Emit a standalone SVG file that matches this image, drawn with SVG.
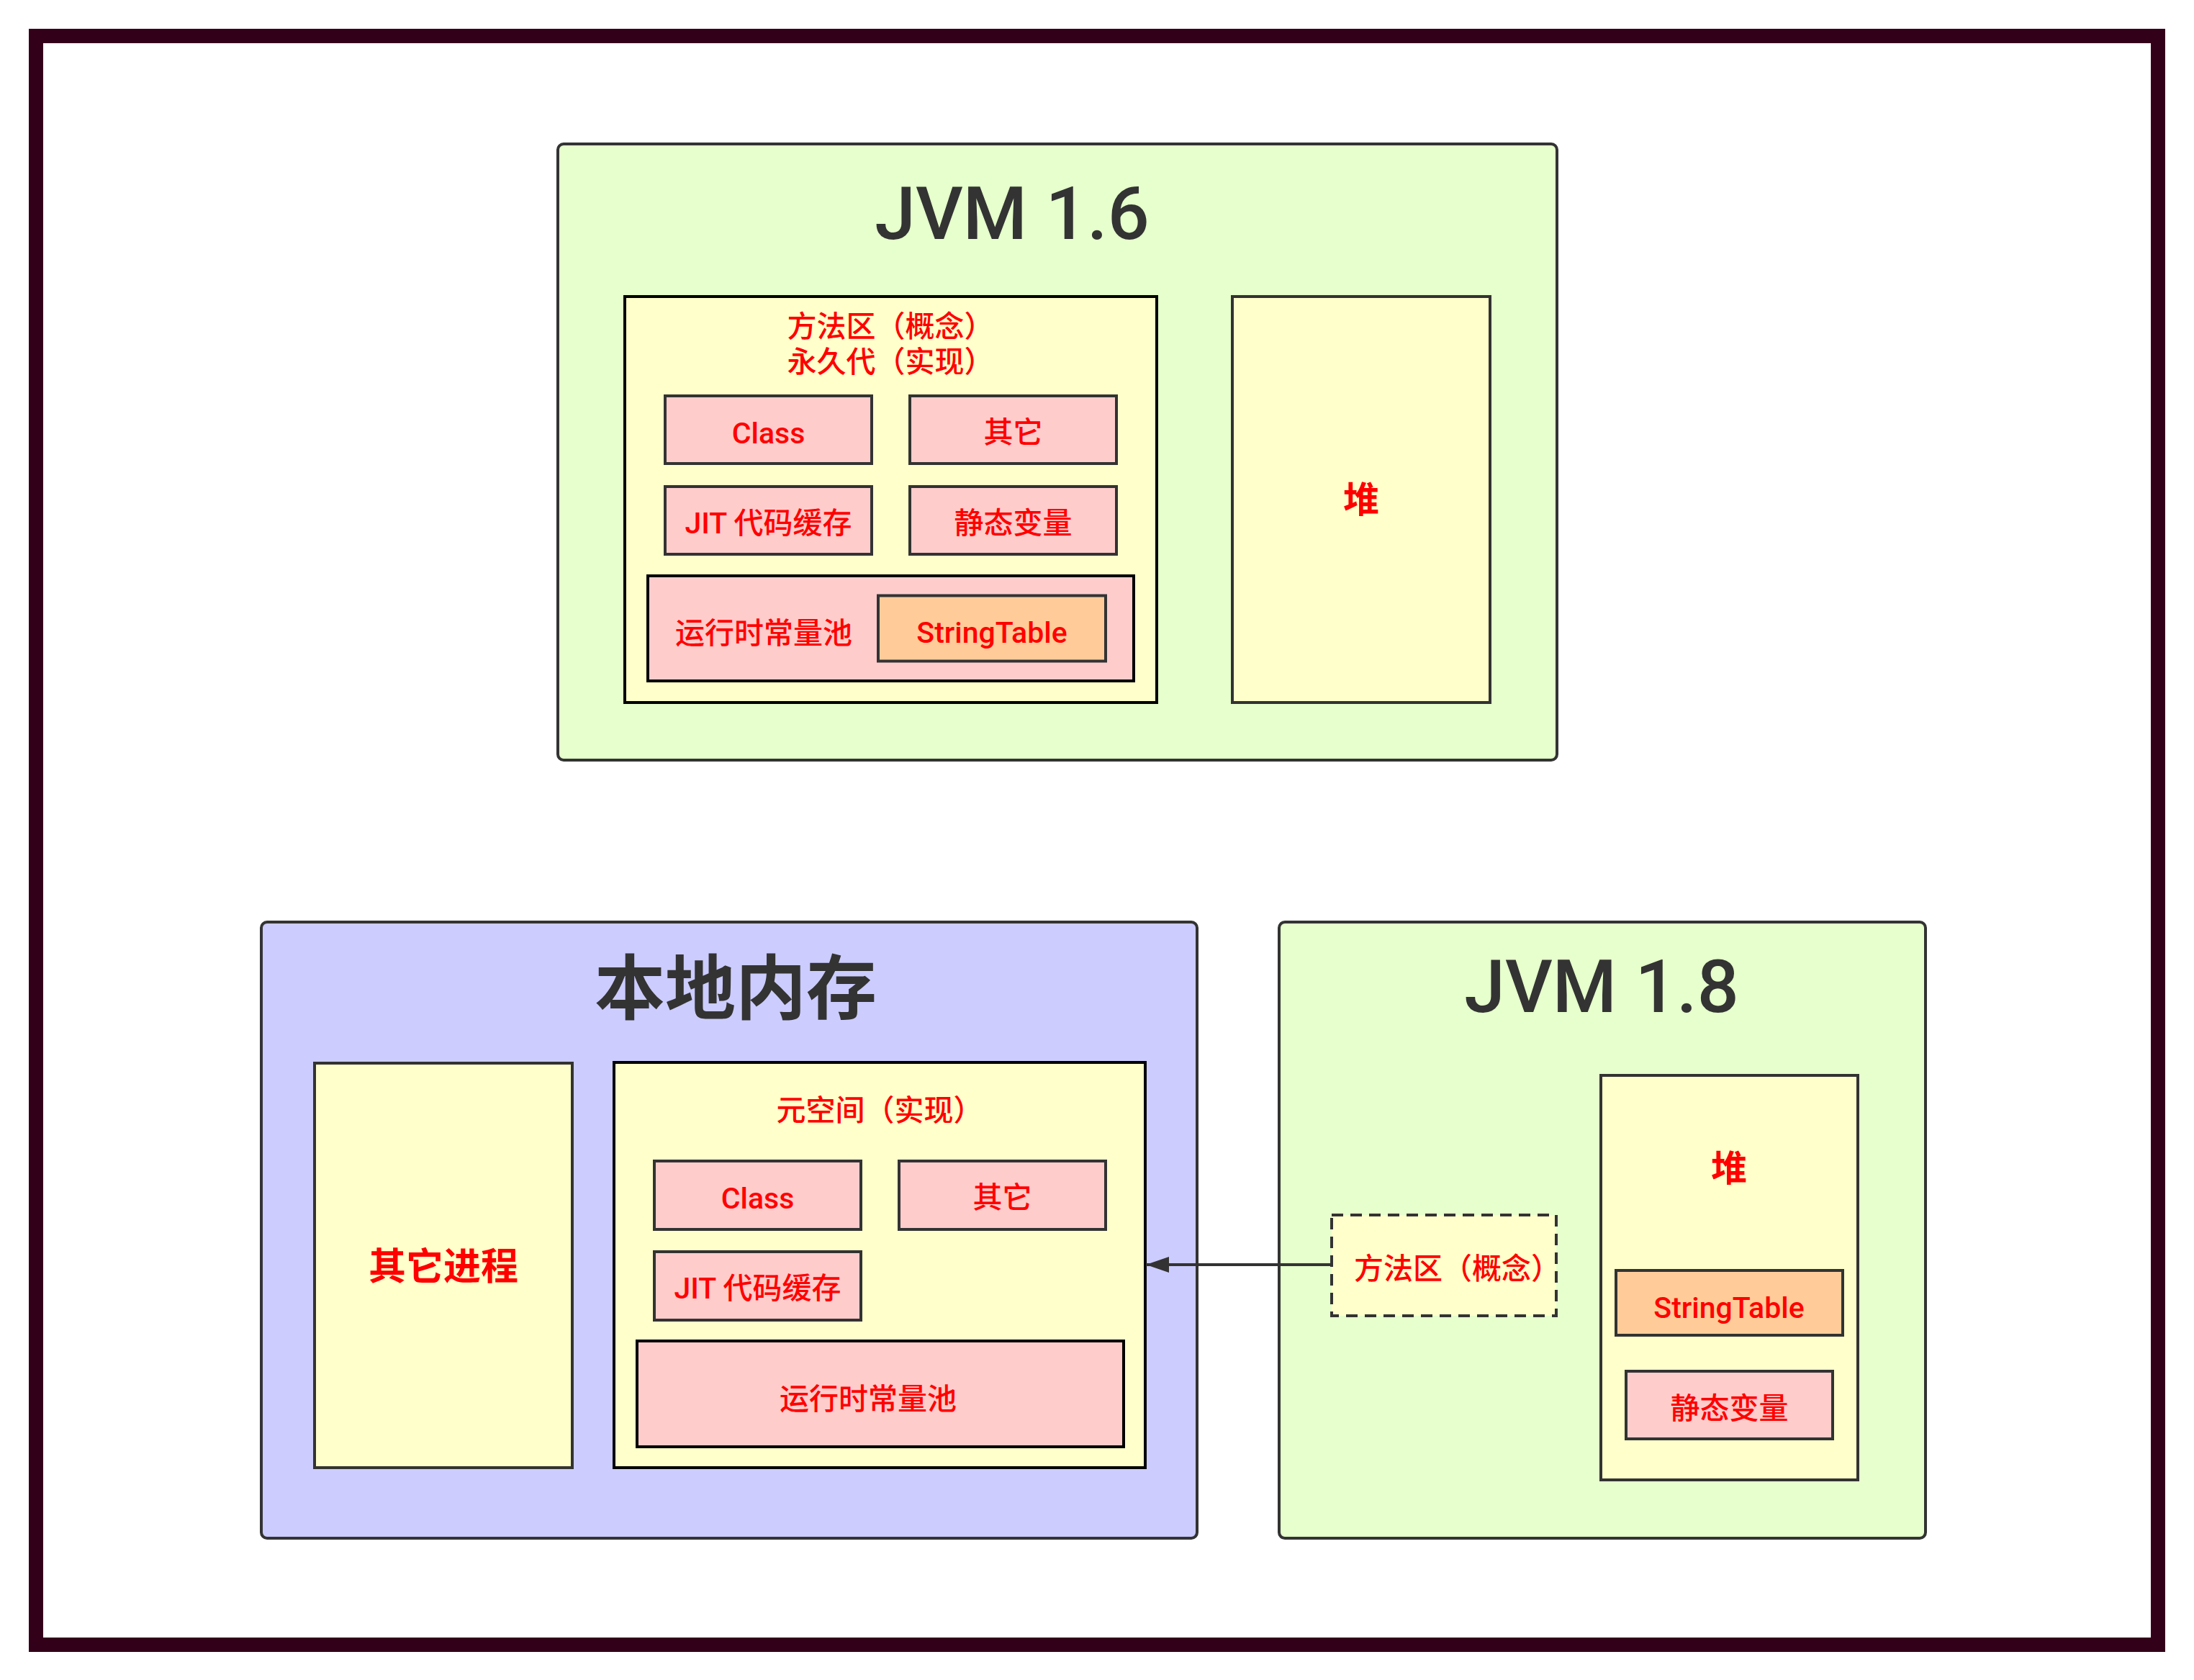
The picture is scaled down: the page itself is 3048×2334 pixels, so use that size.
<svg xmlns="http://www.w3.org/2000/svg" width="3048" height="2334" viewBox="0 0 3048 2334">
<style>
text{font-family:"Liberation Sans","Noto Sans CJK SC",sans-serif;}
.lbl{font-family:"Roboto","Noto Sans CJK SC",sans-serif;font-size:41px;font-weight:500;fill:#FF0000;text-anchor:middle;}
.big{font-size:50px;font-weight:bold;fill:#FF0000;text-anchor:middle;}
.title{font-family:"Roboto","Noto Sans CJK SC",sans-serif;font-size:102px;font-weight:500;fill:#333333;text-anchor:middle;}
.ctitle{font-family:"Noto Sans CJK SC",sans-serif;font-size:98px;font-weight:bold;fill:#333333;text-anchor:middle;}
.green{fill:#E6FFCC;stroke:#333333;stroke-width:4;}
.purple{fill:#CCCCFF;stroke:#333333;stroke-width:4;}
.yel{fill:#FFFFCC;stroke:#333333;stroke-width:4;}
.yelb{fill:#FFFFCC;stroke:#000000;stroke-width:4;}
.pink{fill:#FFCCCC;stroke:#333333;stroke-width:4;}
.pinkb{fill:#FFCCCC;stroke:#000000;stroke-width:4;}
.orange{fill:#FFCC99;stroke:#333333;stroke-width:4;}
.dash{fill:#FFFFCC;stroke:#333333;stroke-width:4;stroke-dasharray:16 10;}
.conn{fill:none;stroke:#333333;stroke-width:4;}
</style>
<defs>
<marker id="arrow" markerUnits="userSpaceOnUse" markerWidth="34" markerHeight="24" refX="32" refY="12" orient="auto">
<path d="M0,1 L32,12 L0,23 Z" fill="#333333"/>
</marker>
</defs>
<rect x="0" y="0" width="3048" height="2334" fill="#FFFFFF"/>
<rect id="frame" x="50" y="50" width="2948" height="2235" fill="none" stroke="#33001A" stroke-width="20"/>

<g id="jvm16">
<rect class="green" x="775" y="200" width="1388" height="856" rx="8"/>
<text class="title" x="1406" y="332">JVM 1.6</text>
</g>
<g id="method-area-16">
<rect class="yelb" x="868" y="412" width="739" height="564"/>
<text class="lbl" x="1237" y="468">方法区（概念）</text>
<text class="lbl" x="1237" y="517">永久代（实现）</text>
</g>
<g id="class-16">
<rect class="pink" x="924" y="550" width="287" height="94"/>
<text class="lbl" x="1067.5" y="616">Class</text>
</g>
<g id="other-16">
<rect class="pink" x="1264" y="550" width="287" height="94"/>
<text class="lbl" x="1407.5" y="615">其它</text>
</g>
<g id="jit-16">
<rect class="pink" x="924" y="676" width="287" height="94"/>
<text class="lbl" x="1067.5" y="741">JIT 代码缓存</text>
</g>
<g id="static-16">
<rect class="pink" x="1264" y="676" width="287" height="94"/>
<text class="lbl" x="1407.5" y="741">静态变量</text>
</g>
<g id="pool-16">
<rect class="pinkb" x="900" y="800" width="675" height="146"/>
<text class="lbl" x="1061" y="894">运行时常量池</text>
</g>
<g id="stringtable-16">
<rect class="orange" x="1220" y="827.5" width="316" height="91"/>
<text class="lbl" x="1378" y="893">StringTable</text>
</g>
<g id="heap-16">
<rect class="yel" x="1712" y="412" width="358" height="564"/>
<text class="big" x="1891" y="712">堆</text>
</g>

<g id="native-memory">
<rect class="purple" x="363" y="1281" width="1300" height="856" rx="8"/>
<text class="ctitle" x="1022" y="1408">本地内存</text>
</g>
<g id="other-process">
<rect class="yel" x="437" y="1477" width="358" height="562"/>
<text class="big" x="616" y="1778" style="font-size:52px">其它进程</text>
</g>
<g id="metaspace">
<rect class="yelb" x="853" y="1476" width="738" height="563"/>
<text class="lbl" x="1222" y="1557">元空间（实现）</text>
</g>
<g id="class-18">
<rect class="pink" x="909" y="1613" width="287" height="95"/>
<text class="lbl" x="1052.5" y="1679">Class</text>
</g>
<g id="other-18">
<rect class="pink" x="1249" y="1613" width="287" height="95"/>
<text class="lbl" x="1392.5" y="1678">其它</text>
</g>
<g id="jit-18">
<rect class="pink" x="909" y="1739" width="287" height="95"/>
<text class="lbl" x="1052.5" y="1804">JIT 代码缓存</text>
</g>
<g id="pool-18">
<rect class="pinkb" x="885" y="1863" width="676" height="147"/>
<text class="lbl" x="1206" y="1958">运行时常量池</text>
</g>

<g id="jvm18">
<rect class="green" x="1777" y="1281" width="898" height="856" rx="8"/>
<text class="title" x="2225" y="1406">JVM 1.8</text>
</g>
<g id="method-area-18">
<rect class="dash" x="1850" y="1688" width="312" height="140"/>
<text class="lbl" x="1881" y="1777" style="text-anchor:start">方法区（概念）</text>
</g>
<g id="heap-18">
<rect class="yel" x="2224" y="1494" width="357" height="562"/>
<text class="big" x="2402" y="1641">堆</text>
</g>
<g id="stringtable-18">
<rect class="orange" x="2245" y="1765" width="315" height="90"/>
<text class="lbl" x="2402" y="1831">StringTable</text>
</g>
<g id="static-18">
<rect class="pink" x="2259" y="1905" width="287" height="94"/>
<text class="lbl" x="2402.5" y="1971">静态变量</text>
</g>

<g id="connectors">
<path class="conn" d="M1850,1757 L1592,1757" marker-end="url(#arrow)"/>
</g>
</svg>
